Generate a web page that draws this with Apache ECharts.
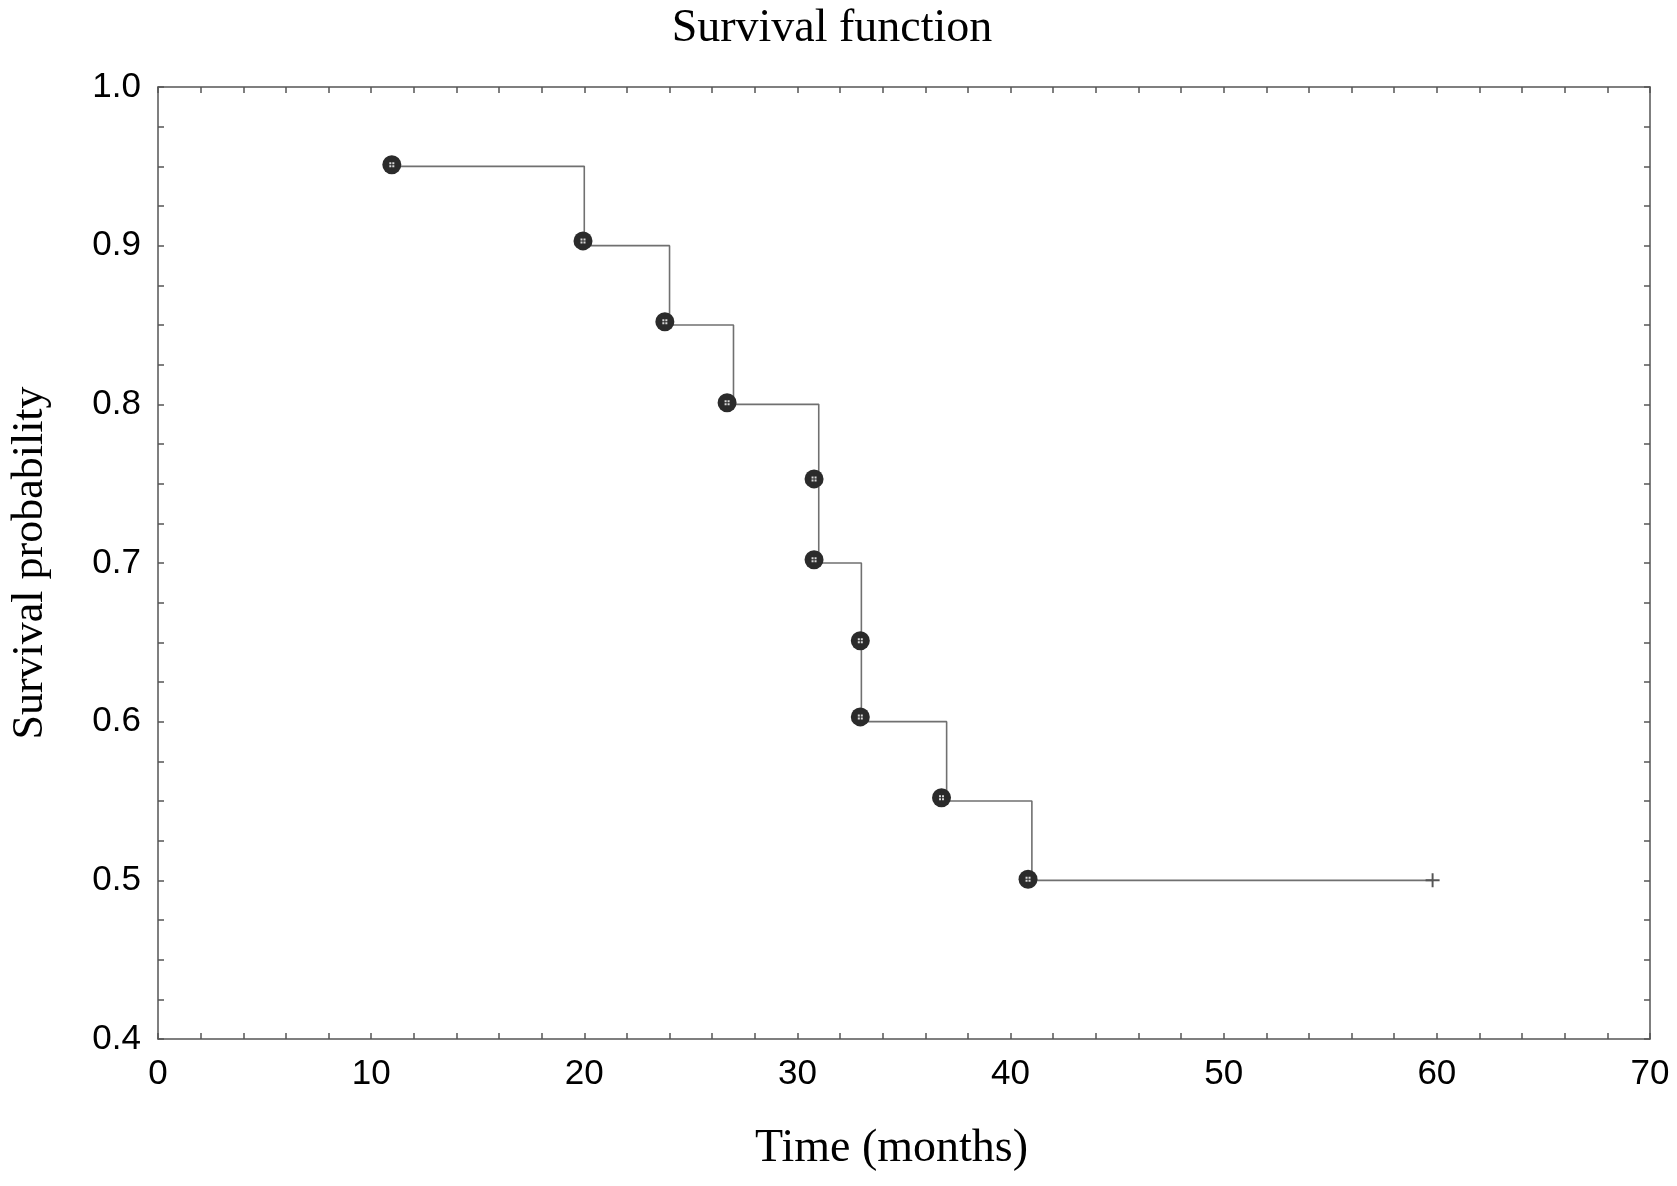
<!DOCTYPE html>
<html>
<head>
<meta charset="utf-8">
<script src="https://cdn.jsdelivr.net/npm/echarts@6/dist/echarts.min.js"></script>
<style>
html,body{margin:0;padding:0;background:#fff;}
#chart{width:1677px;height:1186px;}
</style>
</head>
<body>
<div id="chart"></div>
<script>
// Step line (Kaplan-Meier curve): event times and survival values
var stepTimes = [11, 20, 24, 27, 31, 31, 33, 33, 37, 41, 59.8];
var stepValues = [0.95, 0.90, 0.85, 0.80, 0.75, 0.70, 0.65, 0.60, 0.55, 0.50, 0.50];
// Event markers
var markerTimes = [10.97, 19.94, 23.78, 26.7, 30.78, 30.78, 32.95, 32.95, 36.76, 40.82];
var markerValues = [0.951, 0.903, 0.852, 0.801, 0.753, 0.702, 0.651, 0.603, 0.552, 0.5007];
// Censored observation
var censorTimes = [59.8];
var censorValues = [0.50];

var xTicks = [0, 10, 20, 30, 40, 50, 60, 70];
var yTicks = [0.4, 0.5, 0.6, 0.7, 0.8, 0.9, 1.0];

function zip(a, b) { return a.map(function (v, i) { return [v, b[i]]; }); }

var axisColor = '#555';
var sansFont = '"Liberation Sans", Arial, sans-serif';
var serifFont = '"Liberation Serif", "Times New Roman", serif';

function xAxisCfg(pos, labels) {
  return {
    type: 'value', position: pos, min: xTicks[0], max: xTicks[xTicks.length - 1], interval: 10,
    axisLine: { show: true, onZero: false, lineStyle: { color: axisColor, width: 1.5 } },
    axisTick: { show: true, inside: true, length: 6, lineStyle: { color: axisColor, width: 1.5 } },
    minorTick: { show: true, splitNumber: 5, length: 6, lineStyle: { color: axisColor, width: 1.5 } },
    splitLine: { show: false }, minorSplitLine: { show: false },
    axisLabel: labels ? { show: true, margin: 18, fontSize: 35, color: '#000', fontFamily: sansFont } : { show: false },
    name: labels ? 'Time (months)' : '',
    nameLocation: 'middle', nameGap: 87,
    nameTextStyle: { fontSize: 46, color: '#000', fontFamily: serifFont, padding: [0, 25, 0, 0] }
  };
}
function yAxisCfg(pos, labels) {
  return {
    type: 'value', position: pos, min: yTicks[0], max: yTicks[yTicks.length - 1], interval: 0.1,
    axisLine: { show: true, onZero: false, lineStyle: { color: axisColor, width: 1.5 } },
    axisTick: { show: true, inside: true, length: 6, lineStyle: { color: axisColor, width: 1.5 } },
    minorTick: { show: true, splitNumber: 4, length: 6, lineStyle: { color: axisColor, width: 1.5 } },
    splitLine: { show: false }, minorSplitLine: { show: false },
    axisLabel: labels ? { show: true, margin: 17, fontSize: 35, color: '#000', fontFamily: sansFont,
      formatter: function (v) { return v.toFixed(1); } } : { show: false },
    name: labels ? 'Survival probability' : '',
    nameLocation: 'middle', nameGap: 106,
    nameTextStyle: { fontSize: 44, color: '#000', fontFamily: serifFont }
  };
}

var chart = echarts.init(document.getElementById('chart'));
chart.setOption({
  backgroundColor: '#fff',
  animation: false,
  title: {
    text: 'Survival function', left: 832, top: 6, padding: 0, textAlign: 'center',
    textStyle: { fontSize: 46, fontWeight: 'normal', color: '#000', fontFamily: serifFont }
  },
  grid: { left: 155, right: 27, top: 87, bottom: 147, containLabel: false },
  xAxis: [xAxisCfg('bottom', true), xAxisCfg('top', false)],
  yAxis: [yAxisCfg('left', true), yAxisCfg('right', false)],
  series: [
    {
      type: 'line', step: 'end', data: zip(stepTimes, stepValues),
      showSymbol: false, symbol: 'none',
      lineStyle: { color: '#707070', width: 1.6 }, z: 2
    },
    {
      type: 'scatter', data: zip(markerTimes, markerValues),
      symbol: 'circle', symbolSize: 19,
      itemStyle: { color: '#2b2b2b', opacity: 1 }, z: 3
    },
    {
      type: 'scatter', data: zip(markerTimes, markerValues),
      symbol: 'path://M0,0h2v2h-2zM3,0h2v2h-2zM0,3h2v2h-2zM3,3h2v2h-2z', symbolSize: 5,
      itemStyle: { color: '#d8d8d8', opacity: 1 }, z: 4
    },
    {
      type: 'scatter', data: zip(censorTimes, censorValues),
      symbol: 'path://M4.3,0h1.4v4.3h4.3v1.4h-4.3v4.3h-1.4v-4.3h-4.3v-1.4h4.3z', symbolSize: 14,
      itemStyle: { color: '#555', opacity: 1 }, z: 3
    }
  ]
});
</script>
</body>
</html>
